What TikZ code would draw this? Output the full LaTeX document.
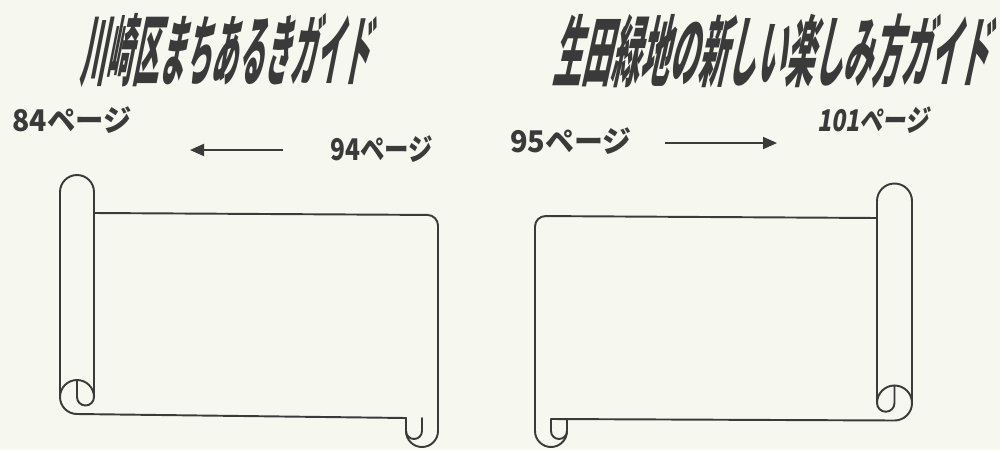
\documentclass[tikz,border=0pt]{standalone}
\usepackage{fontspec}
\usepackage{tikz}
\usetikzlibrary{arrows.meta}
\newfontfamily\titlefont{Noto Sans CJK JP}[FakeSlant=0.58]
\newfontfamily\pagefont{Noto Sans CJK JP}
\newfontfamily\pagefontsl{Noto Sans CJK JP}[FakeSlant=0.2]
\definecolor{paper}{RGB}{246,247,239}
\definecolor{ink}{RGB}{58,58,58}

\begin{document}
\begin{tikzpicture}[x=0.02cm, y=-0.02cm, >={Triangle[length=2.8mm,width=2.4mm]},
        every node/.style={inner sep=0pt, text=ink},
        title/.style={font=\titlefont\bfseries\fontsize{44}{44}\selectfont},
        pg/.style={font=\pagefont\bfseries\fontsize{17}{17}\selectfont},
        scroll/.style={draw=ink, line width=1.1pt, line join=round, line cap=round}]
        \fill[paper] (0,0) rectangle (1000,450);
        \useasboundingbox (0,0) rectangle (1000,450);

        % 标题
        \node[title] (kawasaki) at (224,50) {\scalebox{0.34}[1]{川崎区まちあるきガイド}};
        \node[title] (ikuta) at (770,51) {\scalebox{0.375}[1]{生田緑地の新しい楽しみ方ガイド}};

        % 页码
        \node[pg] (p84) at (72,120) {\scalebox{0.95}[1]{84ページ}};
        \node[pg] (p94) at (382,149) {\scalebox{0.82}[1]{94ページ}};
        \node[pg] (p95) at (571,141) {\scalebox{0.97}[1]{95ページ}};
        \node[pg, font=\pagefontsl\bfseries\fontsize{17}{17}\selectfont] (p101) at (873,120) {\scalebox{0.78}[1]{101ページ}};

        % 箭头
        \coordinate (back1) at (283,150);
        \coordinate (back2) at (190,150);
        \coordinate (fwd1) at (665,143);
        \coordinate (fwd2) at (777,143);
        \draw[->, draw=ink, line width=1.1pt] (back1) -- (back2);
        \draw[->, draw=ink, line width=1.1pt] (fwd1) -- (fwd2);

        % 左卷轴
        \draw[scroll] (60,397) -- (60,192) arc[start angle=180, end angle=360, radius=17] -- (94,397);
        \draw[scroll] (94,397) arc[start angle=0, end angle=-270, radius=17] -- (406,418);
        \draw[scroll] (77,380) -- (77,397) arc[start angle=180, end angle=0, radius=8.5];
        \draw[scroll, rounded corners=6pt] (94,213) -- (438,215) -- (438,300);
        \draw[scroll] (438,300) -- (438,431) arc[start angle=0, end angle=180, radius=16] -- (406,418);
        \draw[scroll] (422,418) -- (422,431) arc[start angle=0, end angle=180, radius=8];

        % 右卷轴
        \draw[scroll] (877,403) -- (877,201) arc[start angle=180, end angle=360, radius=17.5] -- (912,403);
        \draw[scroll] (877,403) arc[start angle=180, end angle=450, radius=17.5] -- (551,419);
        \draw[scroll] (894.5,385.5) -- (894.5,403) arc[start angle=0, end angle=180, radius=8.75];
        \draw[scroll, rounded corners=6pt] (877,218) -- (535,216) -- (535,300);
        \draw[scroll] (535,300) -- (535,431) arc[start angle=180, end angle=0, radius=16] -- (567,419);
        \draw[scroll] (551,419) -- (551,431) arc[start angle=180, end angle=0, radius=8];
\end{tikzpicture}
\end{document}
